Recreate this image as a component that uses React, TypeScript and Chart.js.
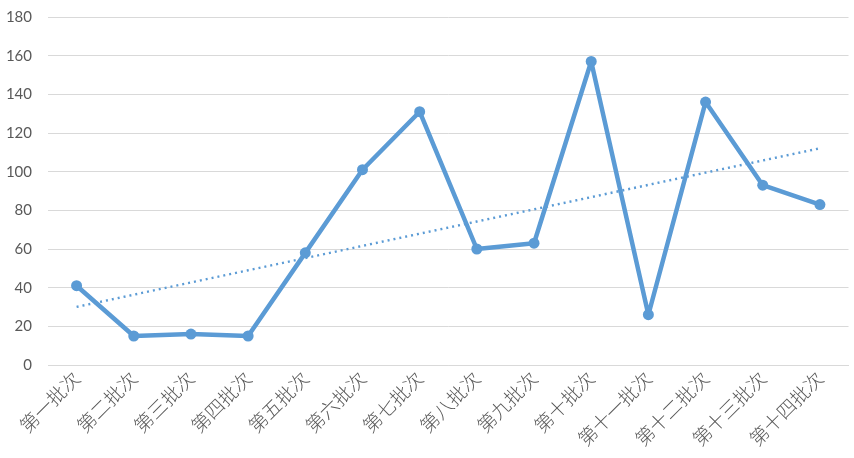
import React, { useEffect, useRef } from "react";
import { Chart, registerables } from "chart.js";

Chart.register(...registerables);

const categories = [
  "第一批次", "第二批次", "第三批次", "第四批次", "第五批次", "第六批次", "第七批次",
  "第八批次", "第九批次", "第十批次", "第十一批次", "第十二批次", "第十三批次", "第十四批次",
];
const values = [41, 15, 16, 15, 58, 101, 131, 60, 63, 157, 26, 136, 93, 83];
const yTicks = [0, 20, 40, 60, 80, 100, 120, 140, 160, 180];

// Linear trend line (least squares) derived from the series values
function linearTrend(ys: number[]): number[] {
  const n = ys.length;
  const xs = ys.map((_, i) => i + 1);
  const mx = xs.reduce((a, b) => a + b, 0) / n;
  const my = ys.reduce((a, b) => a + b, 0) / n;
  let sxy = 0, sxx = 0;
  xs.forEach((x, i) => { sxy += (x - mx) * (ys[i] - my); sxx += (x - mx) * (x - mx); });
  const b = sxy / sxx;
  const a = my - b * mx;
  return xs.map((x) => a + b * x);
}

const BLUE = "#5B9BD5";

export default function App() {
  const ref = useRef<HTMLCanvasElement | null>(null);
  useEffect(() => {
    if (!ref.current) return;
    const chart = new Chart(ref.current, {
      type: "line",
      data: {
        labels: categories,
        datasets: [
          {
            data: values,
            borderColor: BLUE,
            backgroundColor: BLUE,
            borderWidth: 4.5,
            pointRadius: 5.5,
            pointBorderWidth: 0,
            pointBackgroundColor: BLUE,
            tension: 0,
            borderJoinStyle: "round",
          },
          {
            data: linearTrend(values),
            borderColor: BLUE,
            borderWidth: 2.4,
            borderDash: [2, 4],
            pointRadius: 0,
            tension: 0,
          },
        ],
      },
      options: {
        animation: false,
        responsive: false,
        maintainAspectRatio: false,
        layout: { padding: { top: 17, right: 0, left: 0, bottom: 0 } },
        plugins: { legend: { display: false }, tooltip: { enabled: false } },
        scales: {
          x: {
            offset: true,
            grid: { display: false, drawTicks: false },
            border: { display: true, color: "#d9d9d9", width: 1 },
            ticks: {
              color: "#595959",
              font: { family: "'Noto Sans CJK SC'", size: 19, weight: "300" },
              maxRotation: 45,
              minRotation: 45,
              autoSkip: false,
              padding: 2,
            },
            afterFit: (s: any) => { s.height = 93; s.paddingRight = 0; },
          },
          y: {
            min: 0,
            max: 180,
            afterBuildTicks: (s: any) => { s.ticks = yTicks.map((v) => ({ value: v })); },
            grid: { color: "#d9d9d9", lineWidth: 1, drawTicks: false },
            border: { display: false },
            ticks: {
              color: "#595959",
              font: { family: "Lato", size: 15 },
              padding: 16,
            },
            afterFit: (s: any) => { s.width = 48; s.paddingTop = 0; s.paddingBottom = 0; },
          },
        },
      },
    });
    return () => chart.destroy();
  }, []);
  return (
    <div style={{ position: "fixed", left: 0, top: 0, width: 854, height: 458, background: "#fff" }}>
      <canvas ref={ref} width={854} height={458} style={{ width: 854, height: 458 }} />
    </div>
  );
}
